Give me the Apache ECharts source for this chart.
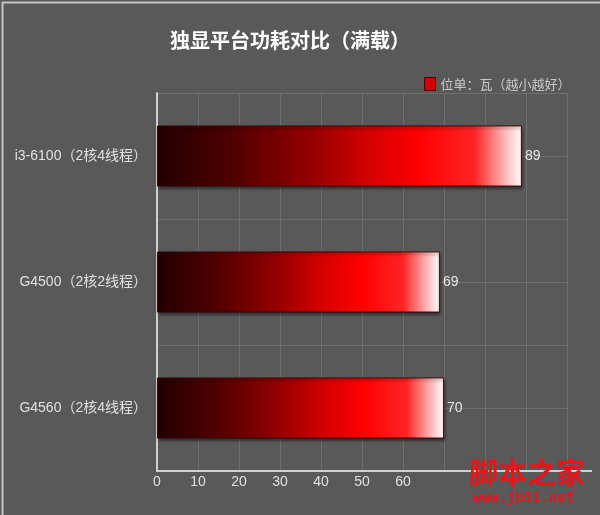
<!DOCTYPE html>
<html>
<head>
<meta charset="utf-8">
<script src="https://cdn.jsdelivr.net/npm/echarts@6/dist/echarts.min.js"></script>
<style>
html,body{margin:0;padding:0;background:#595959;}
#c{width:600px;height:515px;}
</style>
</head>
<body>
<div id="c"></div>
<script>
const titleText = '独显平台功耗对比（满载）';
const legendName = '位单：瓦（越小越好）';
const categories = ['i3-6100（2核4线程）', 'G4500（2核2线程）', 'G4560（2核4线程）'];
const values = [89, 69, 70];
const xMin = 0, xMax = 100, xStep = 10;
const shownTickMax = 60;

const fontSans = '"Liberation Sans", "Noto Sans CJK SC", sans-serif';
const chart = echarts.init(document.getElementById('c'), null, {renderer: 'canvas'});

const barGradient = new echarts.graphic.LinearGradient(0, 0, 1, 0, [
  {offset: 0, color: '#220000'},
  {offset: 0.2, color: '#4e0000'},
  {offset: 0.42, color: '#940000'},
  {offset: 0.58, color: '#d40000'},
  {offset: 0.72, color: '#ff0000'},
  {offset: 0.87, color: '#ff2424'},
  {offset: 0.95, color: '#ffb0b0'},
  {offset: 1, color: '#ffffff'}
]);

chart.setOption({
  backgroundColor: '#595959',
  animation: false,
  title: {
    text: titleText,
    left: 285, top: 25, textAlign: 'center',
    textStyle: {color: '#ffffff', fontSize: 20, fontWeight: 'bold', fontFamily: '"Noto Sans CJK SC", sans-serif'}
  },
  legend: {
    data: [{name: legendName, itemStyle: {color: '#d40000', borderColor: '#550000', borderWidth: 1}}],
    left: 419, top: 72,
    icon: 'rect', itemWidth: 11, itemHeight: 13, itemGap: 8,
    textStyle: {color: '#c8c8c8', fontSize: 13, fontFamily: '"Noto Sans CJK SC", serif'}
  },
  grid: {left: 157, right: 33, top: 93, bottom: 44, containLabel: false},
  xAxis: {
    type: 'value', min: xMin, max: xMax, interval: xStep,
    axisLine: {show: true, lineStyle: {color: '#d0d0d0', width: 2}},
    axisTick: {show: false},
    axisLabel: {
      color: '#e0e0e0', fontSize: 14, fontFamily: fontSans, margin: 4,
      formatter: v => (v <= shownTickMax ? String(v) : '')
    },
    splitLine: {show: true, lineStyle: {color: '#6e6e6e', width: 1}}
  },
  yAxis: [
    {
      type: 'category', data: categories, inverse: true,
      axisLine: {show: true, lineStyle: {color: '#d0d0d0', width: 2}},
      axisTick: {show: false},
      axisLabel: {color: '#e0e0e0', fontSize: 14, fontFamily: fontSans, margin: 10},
      splitLine: {show: false}
    },
    {
      type: 'value', min: 0, max: categories.length * 2, interval: 1, position: 'left',
      axisLine: {show: false}, axisTick: {show: false}, axisLabel: {show: false},
      splitLine: {show: true, lineStyle: {color: '#6e6e6e', width: 1}}
    }
  ],
  series: [{
    name: legendName,
    type: 'bar',
    yAxisIndex: 0,
    data: values,
    barWidth: 61,
    itemStyle: {
      color: barGradient,
      borderColor: 'rgba(60,0,0,0.9)', borderWidth: 1,
      shadowColor: 'rgba(0,0,0,0.55)', shadowBlur: 3, shadowOffsetX: 1, shadowOffsetY: 2
    },
    label: {
      show: true, position: 'right', distance: 3,
      color: '#e8e8e8', fontSize: 14, fontFamily: fontSans
    }
  }],
  graphic: [
    {type: 'rect', left: 0, top: 0, shape: {width: 599, height: 514},
     style: {fill: 'none', stroke: '#c4c4c4', lineWidth: 2}, silent: true, z: 100},
    {type: 'line', shape: {x1: 567, y1: 471, x2: 592, y2: 471},
     style: {stroke: '#d0d0d0', lineWidth: 2}, silent: true},
    {type: 'text', left: 469, top: 458,
     style: {text: '脚本之家', fill: '#e8141b', font: 'bold 29px "Noto Sans CJK SC"'}, z: 50},
    {type: 'text', left: 473, top: 491,
     style: {text: 'www.jb51.net', fill: '#e8141b', font: 'bold 14px "DejaVu Sans Mono"'}, z: 50}
  ]
});
</script>
</body>
</html>
